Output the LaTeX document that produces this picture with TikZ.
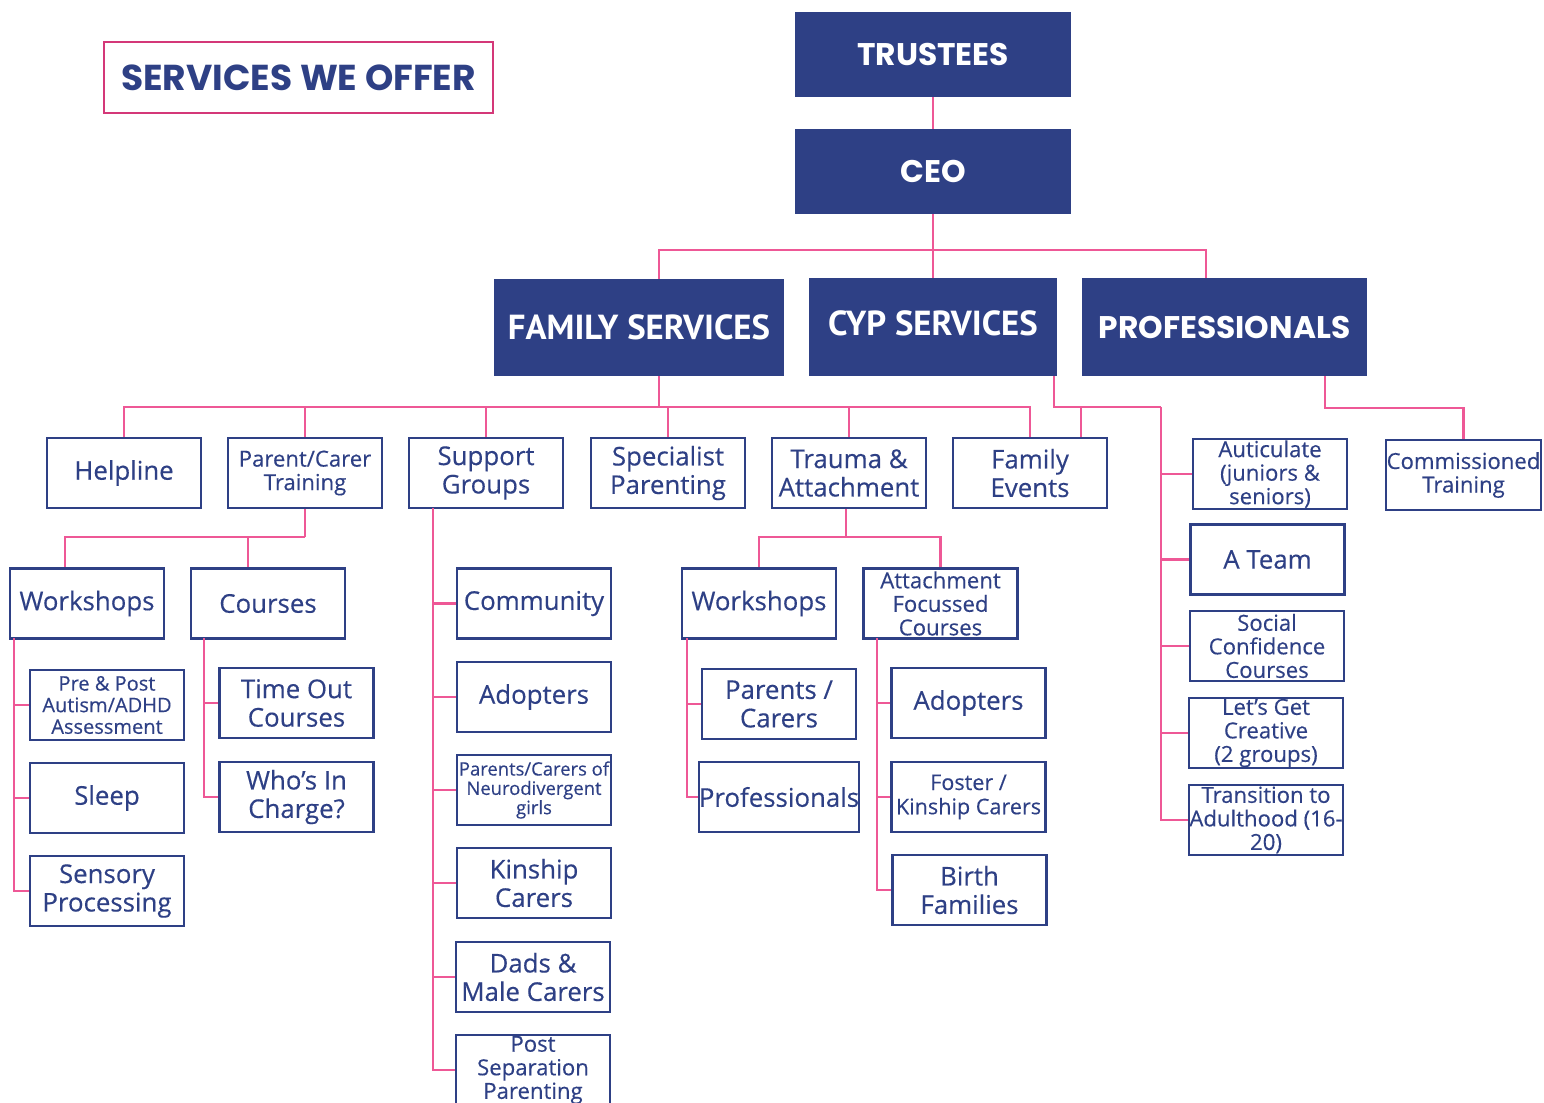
\documentclass[tikz,border=0pt]{standalone}
\usepackage{fontspec}
\setmainfont{Open Sans}[FakeBold=0.35]
\newfontfamily\popfont{Poppins}
\newfontfamily\ptfont{PT Sans}
\definecolor{navy}{RGB}{46,64,133}
\definecolor{linkpink}{RGB}{238,88,150}
\definecolor{titlepink}{RGB}{212,56,120}

\begin{document}
\begin{tikzpicture}[x=0.02cm, y=-0.02cm,
    head/.style ={fill=navy, text=white, inner sep=0pt, font=\popfont\bfseries\fontsize{17.8}{20}\selectfont},
    service/.style ={fill=navy, text=white, inner sep=0pt, font=\ptfont\bfseries\fontsize{19.8}{22}\selectfont},
    box/.style ={draw=navy, line width=1.5pt, text=navy, inner sep=0pt, align=center,
      minimum width=3.08cm, minimum height=1.4cm},
    big/.style ={box, font=\fontsize{14.7}{16.2}\selectfont},
    mid/.style ={box, font=\fontsize{12.6}{13.4}\selectfont},
    small/.style ={box, font=\fontsize{11.4}{12.3}\selectfont},
    tiny/.style ={box, font=\fontsize{10.5}{11}\selectfont},
    link/.style ={draw=linkpink, line width=1.2pt}]
   \useasboundingbox (0,0) rectangle (1544,1102);

   \node[draw=titlepink, line width=1.1pt, text=navy, inner sep=0pt, minimum width=7.78cm, minimum height=1.42cm,
     font=\popfont\bfseries\fontsize{20.5}{22}\selectfont] (title) at (298.5,77.5) {SERVICES WE OFFER};

   \node[head, minimum width=5.52cm, minimum height=1.7cm] (trustees) at (933,54.5) {TRUSTEES};
   \node[head, minimum width=5.52cm, minimum height=1.7cm] (ceo) at (933,171.5) {CEO};
   \node[service, minimum width=5.8cm, minimum height=1.94cm] (fam) at (639,327.5) {FAMILY SERVICES};
   \node[service, minimum width=4.96cm, minimum height=1.96cm, text depth=0.16cm] (cyp) at (933,327) {CYP SERVICES};
   \node[head, minimum width=5.7cm, minimum height=1.96cm] (prof) at (1224.5,327) {PROFESSIONALS};

   \node[big] (helpline) at (124,473) {Helpline};
   \node[mid] (parent) at (305,473) {Parent/Carer\\Training};
   \node[big] (support) at (486,473) {Support\\Groups};
   \node[big] (specialist) at (668,473) {Specialist\\Parenting};
   \node[big] (trauma) at (849,473) {Trauma \&\\Attachment};
   \node[big] (events) at (1030,473) {Family\\Events};
   \node[mid] (auticulate) at (1270,474) {Auticulate\\(juniors \&\\seniors)};
   \node[mid, minimum width=3.1cm] (commissioned) at (1463.5,475) {Commissioned\\Training};
   \node[big] (ateam) at (1267.5,559.5) {A Team};
   \node[mid] (social) at (1267,646) {Social\\Confidence\\Courses};
   \node[mid] (creative) at (1266,733) {Let’s Get\\Creative\\(2 groups)};
   \node[mid] (transition) at (1266,820) {Transition to\\Adulthood (16-\\20)};

   \node[big] (pworkshops) at (87,603.5) {Workshops};
   \node[big] (pcourses) at (268,603.5) {Courses};
   \node[small] (prepost) at (107,705) {Pre \& Post\\Autism/ADHD\\Assessment};
   \node[big] (sleep) at (107,798) {Sleep};
   \node[big] (sensory) at (107,891) {Sensory\\Processing};
   \node[big] (timeout) at (296.5,703) {Time Out\\Courses};
   \node[big] (whos) at (296.5,797) {Who’s In\\Charge?};

   \node[big] (community) at (534,603.5) {Community};
   \node[big] (adopters) at (534,697) {Adopters};
   \node[tiny] (ndgirls) at (534,790) {Parents/Carers of\\Neurodivergent\\girls};
   \node[big] (kinship) at (534,883) {Kinship\\Carers};
   \node[big] (dads) at (533,977) {Dads \&\\Male Carers};
   \node[mid] (postsep) at (533,1070) {Post\\Separation\\Parenting};

   \node[big] (tworkshops) at (759,603.5) {Workshops};
   \node[mid] (afc) at (940.5,603.5) {Attachment\\Focussed\\Courses};
   \node[big] (parents) at (779,704) {Parents /\\Carers};
   \node[big] (profs) at (779,797) {Professionals};
   \node[big] (adopters2) at (968.5,703) {Adopters};
   \node[mid, font=\fontsize{12.3}{13.8}\selectfont] (foster) at (968.5,797) {Foster /\\Kinship Carers};
   \node[big] (birth) at (969.5,890) {Birth\\Families};

   \coordinate (ceojoin) at (933,250);
   \coordinate (famjoin) at (659,407);
   \coordinate (cypjoin) at (1054,407);
   \coordinate (cypbus) at (1161,407);
   \coordinate (profjoin) at (1325,408);
   \coordinate (pctjoin) at (305,537);
   \coordinate (pwbus) at (14,638);
   \coordinate (pcbus) at (204,638);
   \coordinate (sgbus) at (433,508);
   \coordinate (tajoin) at (846,537);
   \coordinate (twbus) at (687,638);
   \coordinate (afcbus) at (877,638);

   \draw[link] (trustees) -- (ceo);
   \draw[link] (ceo) -- (ceojoin);
   \draw[link] (ceojoin) -| ([xshift=0.4cm]fam.north);
   \draw[link] (ceojoin) -- (cyp);
   \draw[link] (ceojoin) -| ([xshift=-0.37cm]prof.north);

   \draw[link] (fam.south -| famjoin) -- (famjoin);
   \foreach \n in {helpline,parent,support,specialist,trauma,events}
     \draw[link] (famjoin) -| (\n.north);

   \draw[link] (cyp.south -| cypjoin) -- (cypjoin) -- (cypbus);
   \draw[link] (cypjoin) -| ([xshift=1.02cm]events.north);
   \foreach \n in {auticulate,ateam,social,creative,transition}
     \draw[link] (cypbus) |- (\n.west);

   \draw[link] (prof.south -| profjoin) -- (profjoin) -| (commissioned.north);

   \draw[link] (parent) -- (pctjoin);
   \draw[link] (pctjoin) -| ([xshift=-0.44cm]pworkshops.north);
   \draw[link] (pctjoin) -| ([xshift=-0.4cm]pcourses.north);
   \foreach \n in {prepost,sleep,sensory}
     \draw[link] (pwbus) |- (\n.west);
   \foreach \n in {timeout,whos}
     \draw[link] (pcbus) |- (\n.west);

   \foreach \n in {community,adopters,ndgirls,kinship,dads,postsep}
     \draw[link] (sgbus) |- (\n.west);

   \draw[link] (trauma.south -| tajoin) -- (tajoin);
   \draw[link] (tajoin) -| (tworkshops.north);
   \draw[link] (tajoin) -| (afc.north);
   \foreach \n in {parents,profs}
     \draw[link] (twbus) |- (\n.west);
   \foreach \n in {adopters2,foster,birth}
     \draw[link] (afcbus) |- (\n.west);
 \end{tikzpicture}
\end{document}
